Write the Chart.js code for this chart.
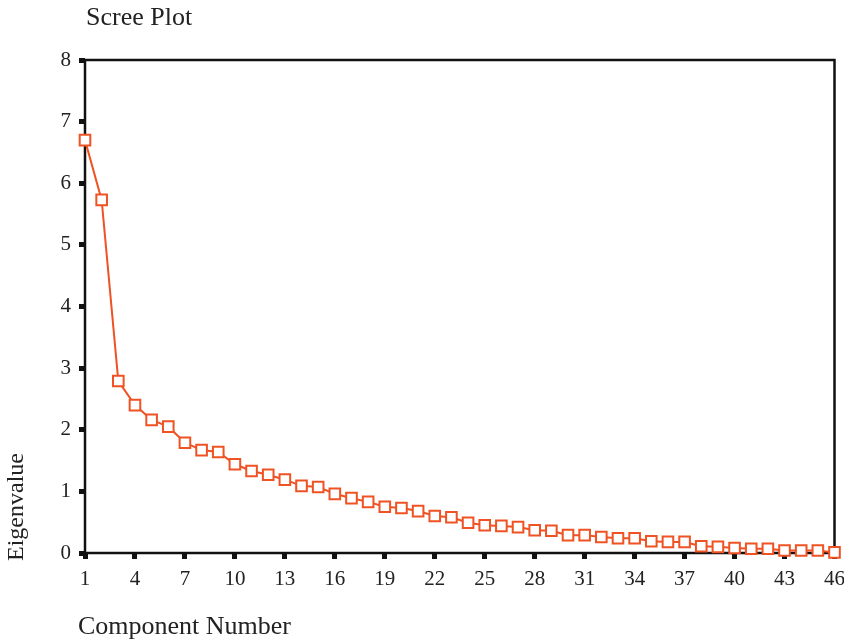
<!DOCTYPE html>
<html>
<head>
<meta charset="utf-8">
<script src="https://cdn.jsdelivr.net/npm/chart.js@4.4.1/dist/chart.umd.min.js"></script>
<style>
  html, body { margin: 0; padding: 0; background: #fff; }
</style>
</head>
<body>
<canvas id="chartCanvas" width="844" height="643"></canvas>
<script>
// scree plot data
const components = [1, 2, 3, 4, 5, 6, 7, 8, 9, 10, 11, 12, 13, 14, 15, 16, 17, 18, 19, 20, 21, 22, 23,
  24, 25, 26, 27, 28, 29, 30, 31, 32, 33, 34, 35, 36, 37, 38, 39, 40, 41, 42, 43, 44, 45, 46];
const eigenvalues = [6.70, 5.73, 2.79, 2.40, 2.16, 2.05, 1.79, 1.67, 1.64, 1.44, 1.33, 1.27, 1.19,
  1.09, 1.07, 0.96, 0.89, 0.83, 0.75, 0.73, 0.68, 0.60, 0.58, 0.49, 0.45, 0.44, 0.42, 0.37, 0.36,
  0.29, 0.29, 0.26, 0.24, 0.24, 0.19, 0.18, 0.18, 0.11, 0.10, 0.08, 0.07, 0.07, 0.04, 0.04, 0.04, 0.01];
const xTicks = [1, 4, 7, 10, 13, 16, 19, 22, 25, 28, 31, 34, 37, 40, 43, 46];
const yTicks = [0, 1, 2, 3, 4, 5, 6, 7, 8];

const chartTitle = "Scree Plot";
const xTitle = "Component Number";
const yTitle = "Eigenvalue";

const serif = "'Liberation Serif', 'DejaVu Serif', serif";
const lineColor = "#ef5223";

// box round the plot area, drawn under the points
const framePlugin = {
  id: "frame",
  beforeDatasetsDraw(chart) {
    const a = chart.chartArea;
    const ctx = chart.ctx;
    ctx.save();
    ctx.strokeStyle = "#111";
    ctx.lineWidth = 2.5;
    ctx.strokeRect(a.left, a.top, a.right - a.left, a.bottom - a.top);
    ctx.restore();
  }
};

// titles placed like the SPSS output
const textPlugin = {
  id: "texts",
  afterDraw(chart) {
    const a = chart.chartArea;
    const ctx = chart.ctx;
    ctx.save();
    ctx.fillStyle = "#222";
    ctx.font = "26px " + serif;
    ctx.textBaseline = "middle";
    ctx.textAlign = "left";
    ctx.fillText(chartTitle, a.left + 1, 18);
    ctx.fillText(xTitle, a.left - 7, 627);
    ctx.translate(17, 507);
    ctx.rotate(-Math.PI / 2);
    ctx.textAlign = "center";
    ctx.font = "24px " + serif;
    ctx.fillText(yTitle, 0, 0);
    ctx.restore();
  }
};

const ctx = document.getElementById("chartCanvas").getContext("2d");

new Chart(ctx, {
  type: "line",
  data: {
    datasets: [{
      data: components.map((c, i) => ({ x: c, y: eigenvalues[i] })),
      borderColor: lineColor,
      borderWidth: 2,
      pointStyle: "rect",
      pointRadius: 7.5,
      pointBorderWidth: 2,
      pointBorderColor: lineColor,
      pointBackgroundColor: "#fff",
      tension: 0,
      clip: false
    }]
  },
  options: {
    responsive: false,
    devicePixelRatio: 1,
    animation: false,
    layout: { padding: { left: 0, top: 60, right: 9, bottom: 0 } },
    plugins: {
      legend: { display: false },
      tooltip: { enabled: false },
      title: { display: false }
    },
    scales: {
      x: {
        type: "linear",
        min: 1,
        max: 46,
        afterBuildTicks: s => { s.ticks = xTicks.map(v => ({ value: v })); },
        afterFit: s => { s.height = 90; s.paddingLeft = 0; s.paddingRight = 0; },
        border: { display: false },
        grid: { drawOnChartArea: false, drawTicks: true, tickLength: 6, tickWidth: 5, tickColor: "#111" },
        ticks: { autoSkip: false, maxRotation: 0, padding: 8, color: "#222", font: { family: serif, size: 21 } }
      },
      y: {
        min: 0,
        max: 8,
        afterBuildTicks: s => { s.ticks = yTicks.map(v => ({ value: v })); },
        afterFit: s => { s.width = 85; s.paddingTop = 0; s.paddingBottom = 0; },
        border: { display: false },
        grid: { drawOnChartArea: false, drawTicks: true, tickLength: 6, tickWidth: 5, tickColor: "#111" },
        ticks: { padding: 8, color: "#222", font: { family: serif, size: 21 } }
      }
    }
  },
  plugins: [framePlugin, textPlugin]
});
</script>
</body>
</html>
